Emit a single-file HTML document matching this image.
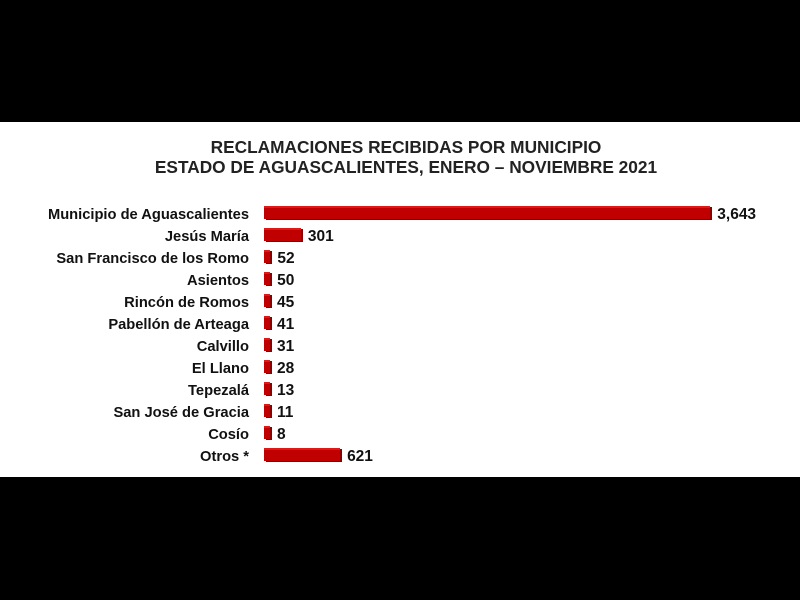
<!DOCTYPE html>
<html><head><style>
body{margin:0;width:800px;height:600px;background:#000;overflow:hidden;font-family:"Liberation Sans",sans-serif}
#w{position:absolute;left:0;top:122px;width:800px;height:355px;background:#fff}
.t{position:absolute;left:0;width:812px;text-align:center;font-weight:bold;font-size:17.3px;color:#222}
.l{position:absolute;right:551px;font-weight:bold;font-size:14.7px;color:#111;white-space:nowrap}
.b{position:absolute;left:264px;height:11px;background:#c00000;border-top:2px solid #e01818;box-shadow:2px 1px 0 #8a0000}
.v{position:absolute;font-weight:bold;font-size:15.5px;color:#111}
</style></head><body>
<div id="w"></div>
<div class="t" style="top:137px">RECLAMACIONES RECIBIDAS POR MUNICIPIO</div>
<div class="t" style="top:157px">ESTADO DE AGUASCALIENTES, ENERO – NOVIEMBRE 2021</div>
<div id="c"></div>
<script>
var d=[["Municipio de Aguascalientes",3643,"3,643"],["Jesús María",301,"301"],["San Francisco de los Romo",52,"52"],["Asientos",50,"50"],["Rincón de Romos",45,"45"],["Pabellón de Arteaga",41,"41"],["Calvillo",31,"31"],["El Llano",28,"28"],["Tepezalá",13,"13"],["San José de Gracia",11,"11"],["Cosío",8,"8"],["Otros *",621,"621"]];
var h="";
d.forEach(function(r,i){var y=215+i*22;var w=Math.max(r[1]*0.1225,6);
h+='<div class="l" style="top:'+(y-8)+'px">'+r[0]+'</div>';
h+='<div class="b" style="top:'+(y-9)+'px;width:'+w+'px"></div>';
h+='<div class="v" style="top:'+(y-9)+'px;left:'+(264+w+7)+'px">'+r[2]+'</div>';});
document.getElementById("c").innerHTML=h;
</script>
</body></html>
